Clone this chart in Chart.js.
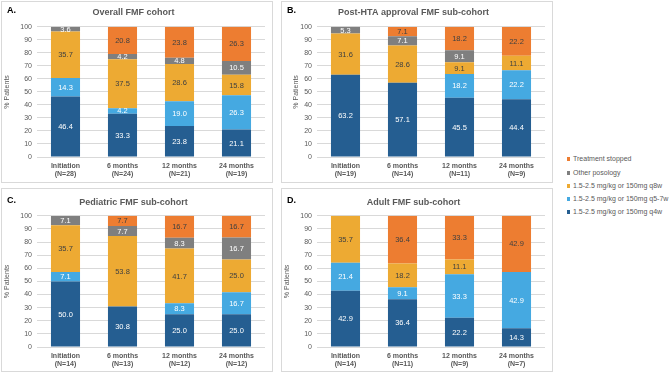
<!DOCTYPE html>
<html><head><meta charset="utf-8">
<script src="https://cdn.jsdelivr.net/npm/chart.js@4/dist/chart.umd.min.js"></script>
<style>
html,body{margin:0;padding:0;background:#fff;}
body{width:669px;height:373px;position:relative;overflow:hidden;font-family:'Liberation Sans',Arial,sans-serif;}
.panel{position:absolute;box-sizing:border-box;border:1px solid #D9D9D9;background:#fff;}
.panel canvas{position:absolute;left:0;top:0;}
.tag{position:absolute;font-weight:bold;font-size:9px;color:#000;line-height:1;}
.li{position:absolute;white-space:nowrap;left:567px;font-size:7px;line-height:8px;color:#595959;}
.sw{display:inline-block;width:3px;height:4px;margin-right:3px;vertical-align:0px;}
</style></head>
<body>
<div class="panel" style="left:1px;top:1px;width:272px;height:182px;"><canvas id="cA" width="270" height="180"></canvas></div>
<div class="panel" style="left:281px;top:1px;width:272px;height:182px;"><canvas id="cB" width="270" height="180"></canvas></div>
<div class="panel" style="left:1px;top:188px;width:272px;height:184px;"><canvas id="cC" width="270" height="182"></canvas></div>
<div class="panel" style="left:281px;top:188px;width:272px;height:184px;"><canvas id="cD" width="270" height="182"></canvas></div>
<div class="tag" style="left:7px;top:6px;">A.</div>
<div class="tag" style="left:287px;top:6px;">B.</div>
<div class="tag" style="left:7px;top:196px;">C.</div>
<div class="tag" style="left:287px;top:196px;">D.</div>
<div id="legend"></div>
<script>
const FONT = "'Liberation Sans', Arial, sans-serif";
const SERIES_NAMES = ['1.5-2.5 mg/kg or 150mg q4w','1.5-2.5 mg/kg or 150mg q5-7w','1.5-2.5 mg/kg or 150mg q8w','Other posology','Treatment stopped'];
const SERIES_COLORS = ['#255E91','#45A9E1','#EDAA33','#7F7F7F','#ED7D31'];
const LABEL_COLORS = ['#FFFFFF','#FFFFFF','#404040','#FFFFFF','#404040'];
const Y_TICKS = [0,10,20,30,40,50,60,70,80,90,100];

// Panel A – Overall FMF cohort
const A_categories = [['Initiation','(N=28)'],['6 months','(N=24)'],['12 months','(N=21)'],['24 months','(N=19)']];
const A_q4w     = [46.4, 33.3, 23.8, 21.1];
const A_q57w    = [14.3, 4.2, 19.0, 26.3];
const A_q8w     = [35.7, 37.5, 28.6, 15.8];
const A_other   = [3.6, 4.2, 4.8, 10.5];
const A_stopped = [0, 20.8, 23.8, 26.3];

// Panel B – Post-HTA approval FMF sub-cohort
const B_categories = [['Initiation','(N=19)'],['6 months','(N=14)'],['12 months','(N=11)'],['24 months','(N=9)']];
const B_q4w     = [63.2, 57.1, 45.5, 44.4];
const B_q57w    = [0, 0, 18.2, 22.2];
const B_q8w     = [31.6, 28.6, 9.1, 11.1];
const B_other   = [5.3, 7.1, 9.1, 0];
const B_stopped = [0, 7.1, 18.2, 22.2];

// Panel C – Pediatric FMF sub-cohort
const C_categories = [['Initiation','(N=14)'],['6 months','(N=13)'],['12 months','(N=12)'],['24 months','(N=12)']];
const C_q4w     = [50.0, 30.8, 25.0, 25.0];
const C_q57w    = [7.1, 0, 8.3, 16.7];
const C_q8w     = [35.7, 53.8, 41.7, 25.0];
const C_other   = [7.1, 7.7, 8.3, 16.7];
const C_stopped = [0, 7.7, 16.7, 16.7];

// Panel D – Adult FMF sub-cohort
const D_categories = [['Initiation','(N=14)'],['6 months','(N=11)'],['12 months','(N=9)'],['24 months','(N=7)']];
const D_q4w     = [42.9, 36.4, 22.2, 14.3];
const D_q57w    = [21.4, 9.1, 33.3, 42.9];
const D_q8w     = [35.7, 18.2, 11.1, 0];
const D_other   = [0, 0, 0, 0];
const D_stopped = [0, 36.4, 33.3, 42.9];

const valueLabels = {
  id: 'valueLabels',
  afterDatasetsDraw(chart) {
    const ctx = chart.ctx;
    ctx.save();
    ctx.font = '7.5px ' + FONT;
    ctx.textAlign = 'center';
    ctx.textBaseline = 'middle';
    chart.data.datasets.forEach((ds, i) => {
      const meta = chart.getDatasetMeta(i);
      meta.data.forEach((el, j) => {
        const v = ds.data[j];
        if (!v) return;
        ctx.fillStyle = LABEL_COLORS[i];
        ctx.fillText(v.toFixed(1), el.x, (el.y + el.base) / 2 + 0.5);
      });
    });
    ctx.restore();
  }
};

function makePanel(id, cats, series, title, opt) {
  return new Chart(document.getElementById(id), {
    type: 'bar',
    data: {
      labels: cats,
      datasets: series.map((d, i) => ({
        label: SERIES_NAMES[i], data: d, backgroundColor: SERIES_COLORS[i],
        borderWidth: 0, categoryPercentage: 1, barPercentage: 0.51
      }))
    },
    options: {
      responsive: false, animation: false, devicePixelRatio: 1,
      layout: { padding: { left: 0, right: 7, top: 0, bottom: 0 } },
      plugins: {
        legend: { display: false }, tooltip: { enabled: false },
        title: { display: true, text: title, color: '#595959',
          font: { family: FONT, size: 9, weight: 'bold', lineHeight: 1.2 },
          padding: { top: opt.tTop, bottom: opt.tBottom } }
      },
      scales: {
        x: {
          stacked: true,
          grid: { display: false, drawTicks: false },
          border: { display: false },
          ticks: { color: '#595959', font: { family: FONT, size: 7, weight: 'bold', lineHeight: 1.15 },
                   padding: 5, maxRotation: 0, autoSkip: false },
          afterFit(s) { s.height = opt.xH; }
        },
        y: {
          stacked: true, min: 0, max: 100,
          afterBuildTicks(s) { s.ticks = Y_TICKS.map(v => ({ value: v })); },
          ticks: { color: '#595959', font: { family: FONT, size: 7 }, padding: 5 },
          grid: { color: '#D9D9D9', lineWidth: 1, drawTicks: false },
          border: { display: false },
          title: { display: true, text: '% Patients', color: '#595959',
                   font: { family: FONT, size: 7 }, padding: { top: opt.yTitlePad, bottom: 0 } },
          afterFit(s) { s.width = 35; }
        }
      }
    },
    plugins: [valueLabels]
  });
}

makePanel('cA', A_categories, [A_q4w, A_q57w, A_q8w, A_other, A_stopped], 'Overall FMF cohort',
  { tTop: 5, tBottom: 9, xH: 25, yTitlePad: 1 });
makePanel('cB', B_categories, [B_q4w, B_q57w, B_q8w, B_other, B_stopped], 'Post-HTA approval FMF sub-cohort',
  { tTop: 5, tBottom: 9, xH: 25, yTitlePad: 10 });
makePanel('cC', C_categories, [C_q4w, C_q57w, C_q8w, C_other, C_stopped], 'Pediatric FMF sub-cohort',
  { tTop: 8, tBottom: 8, xH: 24, yTitlePad: 1 });
makePanel('cD', D_categories, [D_q4w, D_q57w, D_q8w, D_other, D_stopped], 'Adult FMF sub-cohort',
  { tTop: 8, tBottom: 8, xH: 24, yTitlePad: 1 });

// Legend (top item = last stacked series)
const LEGEND_TOPS = [155, 169, 182, 195, 208];
const legend = document.getElementById('legend');
[4, 3, 2, 1, 0].forEach((si, k) => {
  const d = document.createElement('div');
  d.className = 'li';
  d.style.top = LEGEND_TOPS[k] + 'px';
  const sw = document.createElement('span');
  sw.className = 'sw';
  sw.style.background = SERIES_COLORS[si];
  d.appendChild(sw);
  d.appendChild(document.createTextNode(SERIES_NAMES[si]));
  legend.appendChild(d);
});
</script>
</body></html>
